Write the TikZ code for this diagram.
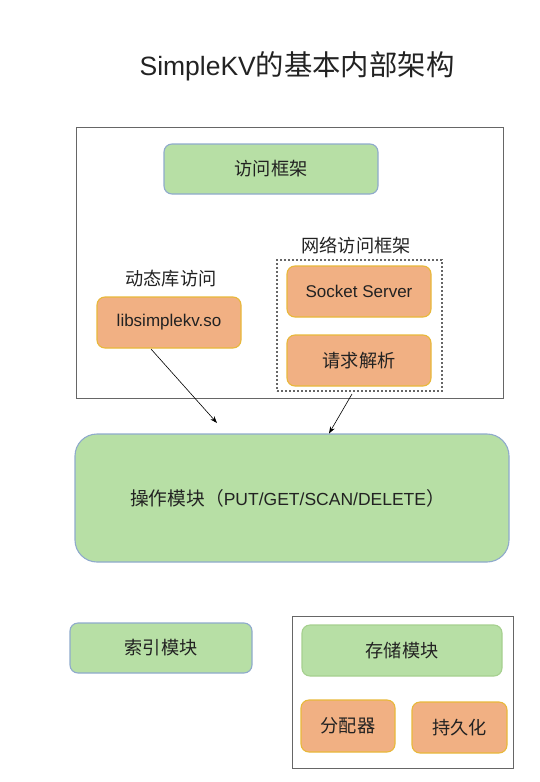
\documentclass[tikz,border=0pt]{standalone}
\usepackage{fontspec}
\setmainfont{Liberation Sans}
\newfontfamily\cjk[Scale=1.07]{Noto Sans CJK SC}
\usetikzlibrary{arrows.meta}
\definecolor{gfill}{HTML}{B7DFA5}
\definecolor{gline}{HTML}{8FAACC}
\definecolor{gline2}{HTML}{A6D08F}
\definecolor{ofill}{HTML}{F1B083}
\definecolor{oline}{HTML}{E8B83A}
\definecolor{frameline}{HTML}{666666}
\definecolor{ink}{HTML}{222222}
\tikzset{
  base/.style={rectangle, inner sep=0pt, text=ink, font=\fontsize{17}{20}\selectfont},
  gbox/.style={base, draw=gline, fill=gfill, line width=1.1pt, rounded corners=8pt},
  obox/.style={base, draw=oline, fill=ofill, line width=1.1pt, rounded corners=8pt},
  frame/.style={rectangle, inner sep=0pt, draw=frameline, line width=1pt},
  dashframe/.style={rectangle, inner sep=0pt, draw=frameline, line width=1.2pt, dash pattern=on 2pt off 2pt},
  lbl/.style={inner sep=0pt, text=ink, font=\fontsize{17}{20}\selectfont},
  conn/.style={draw=black, line width=0.6pt, -{Stealth[length=7pt,width=5pt]}}
}
\begin{document}
\begin{tikzpicture}[x=1pt,y=-1pt]
\useasboundingbox (0,0) rectangle (539,782);
% title
\node[lbl, font=\fontsize{26.5}{31}\selectfont] (title) at (297,66) {SimpleKV{\cjk 的基本内部架构}};

% access framework
\node[frame, minimum width=427, minimum height=271] (outer) at (289.5,262.5) {};
\node[gbox, minimum width=214, minimum height=50] (access) at (271,169) {\cjk 访问框架};
\node[lbl] (netlbl) at (356,245) {\cjk 网络访问框架};
\node[dashframe, minimum width=165, minimum height=131] (net) at (359.5,325.5) {};
\node[obox, minimum width=144, minimum height=51] (socket) at (359,291.5) {Socket Server};
\node[obox, minimum width=144, minimum height=51] (parse) at (359,360.5) {\cjk 请求解析};
\node[lbl] (dynlbl) at (171,279) {\cjk 动态库访问};
\node[obox, minimum width=144, minimum height=51] (lib) at (169,322.5) {libsimplekv.so};

% operation module
\node[gbox, rounded corners=22pt, minimum width=434, minimum height=128,
      font=\fontsize{17.5}{21}\selectfont] (op) at (292,498)
      {\hspace*{-9pt}{\cjk 操作模块（}PUT/GET/SCAN/DELETE{\cjk ）}};

% connectors into the operation module
\coordinate (a1s) at (151,349);
\coordinate (a1e) at (217,423);
\coordinate (a2s) at (352,394);
\coordinate (a2e) at (329,433.5);
\draw[conn] (a1s) -- (a1e);
\draw[conn] (a2s) -- (a2e);

% index and storage
\node[gbox, minimum width=182, minimum height=50] (index) at (161,648) {\cjk 索引模块};
\node[frame, minimum width=221, minimum height=152] (storeframe) at (402.5,692) {};
\node[gbox, draw=gline2, minimum width=200, minimum height=51] (store) at (402,650.5) {\cjk 存储模块};
\node[obox, minimum width=94, minimum height=52] (alloc) at (348,726) {\cjk 分配器};
\node[obox, minimum width=95, minimum height=51] (persist) at (459.5,727.5) {\cjk 持久化};
\end{tikzpicture}
\end{document}
